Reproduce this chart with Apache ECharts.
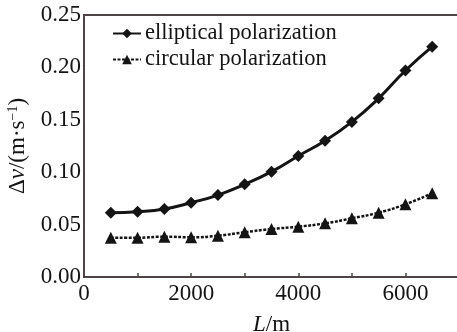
<!DOCTYPE html>
<html>
<head>
<meta charset="utf-8">
<script src="https://cdn.jsdelivr.net/npm/echarts@6/dist/echarts.min.js"></script>
<style>
  html, body { margin: 0; padding: 0; background: #fff; }
  #chart { width: 457px; height: 332px; }
</style>
</head>
<body>
<div id="chart"></div>
<script>
// distance L (m)
var lengths = [500, 1000, 1500, 2000, 2500, 3000, 3500, 4000, 4500, 5000, 5500, 6000, 6500]
// velocity difference (m/s)
var elliptical = [0.0614, 0.0623, 0.0649, 0.0709, 0.0782, 0.0884, 0.1005, 0.1155, 0.130, 0.148, 0.1705, 0.197, 0.2198]
var circular = [0.0375, 0.0375, 0.0385, 0.0379, 0.0394, 0.0427, 0.0458, 0.048, 0.0512, 0.056, 0.0614, 0.0694, 0.0799]
var seriesNames = ['elliptical polarization', 'circular polarization']

var font = 'Liberation Serif'
var ink = '#141414'
var axisColor = '#4d4545'

function pairs(ys) {
  return lengths.map(function (x, i) { return [x, ys[i]] })
}

var myChart = echarts.init(document.getElementById('chart'))
myChart.setOption({
  backgroundColor: '#fff',
  animation: false,
  grid: {
    left: 84, top: 15, bottom: 55, right: -2,
    containLabel: false,
    outerBoundsMode: 'none',
    show: true, borderColor: axisColor, borderWidth: 2
  },
  legend: {
    orient: 'vertical',
    left: 107, top: 17,
    itemWidth: 28, itemHeight: 12, itemGap: 3,
    textStyle: { fontFamily: font, fontSize: 22.5, color: ink, lineHeight: 22, padding: [0, 0, 0, -1] },
    data: seriesNames
  },
  xAxis: {
    type: 'value',
    min: 0, max: 7000, interval: 1000,
    name: '{i|L}{n|/m}',
    nameLocation: 'middle',
    nameGap: 36,
    nameTextStyle: {
      rich: {
        i: { fontFamily: font, fontSize: 23, fontStyle: 'italic', color: ink },
        n: { fontFamily: font, fontSize: 23, color: ink }
      }
    },
    axisLine: { lineStyle: { color: axisColor, width: 2 } },
    axisTick: { show: true, inside: true, length: 4, lineStyle: { color: axisColor, width: 1.5 } },
    axisLabel: {
      fontFamily: font, fontSize: 23, color: ink, margin: 5,
      formatter: function (v) { return v % 2000 === 0 ? String(v) : '' }
    },
    splitLine: { show: false }
  },
  yAxis: {
    type: 'value',
    min: 0, max: 0.25, interval: 0.05,
    name: '{a|Δ}{i|v}{a|/(m·s}{s|−1}{a|)}',
    nameLocation: 'middle',
    nameGap: 52,
    nameTextStyle: {
      rich: {
        a: { fontFamily: font, fontSize: 23, color: ink },
        i: { fontFamily: font, fontSize: 23, fontStyle: 'italic', color: ink },
        s: { fontFamily: font, fontSize: 14, color: ink, padding: [0, 0, 11, 0] }
      }
    },
    axisLine: { show: true, lineStyle: { color: axisColor, width: 2 } },
    axisTick: { show: false },
    axisLabel: {
      fontFamily: font, fontSize: 23, color: ink, margin: 3,
      formatter: function (v) { return v.toFixed(2) }
    },
    splitLine: { show: false }
  },
  series: [
    {
      name: seriesNames[0],
      type: 'line',
      smooth: true,
      data: pairs(elliptical),
      symbol: 'diamond',
      symbolSize: 12,
      itemStyle: { color: ink },
      lineStyle: { color: ink, width: 3 }
    },
    {
      name: seriesNames[1],
      type: 'line',
      smooth: true,
      data: pairs(circular),
      symbol: 'triangle',
      symbolSize: 12,
      itemStyle: { color: ink },
      lineStyle: { color: ink, width: 2.5, type: [3, 1.5] }
    }
  ]
})
</script>
</body>
</html>
